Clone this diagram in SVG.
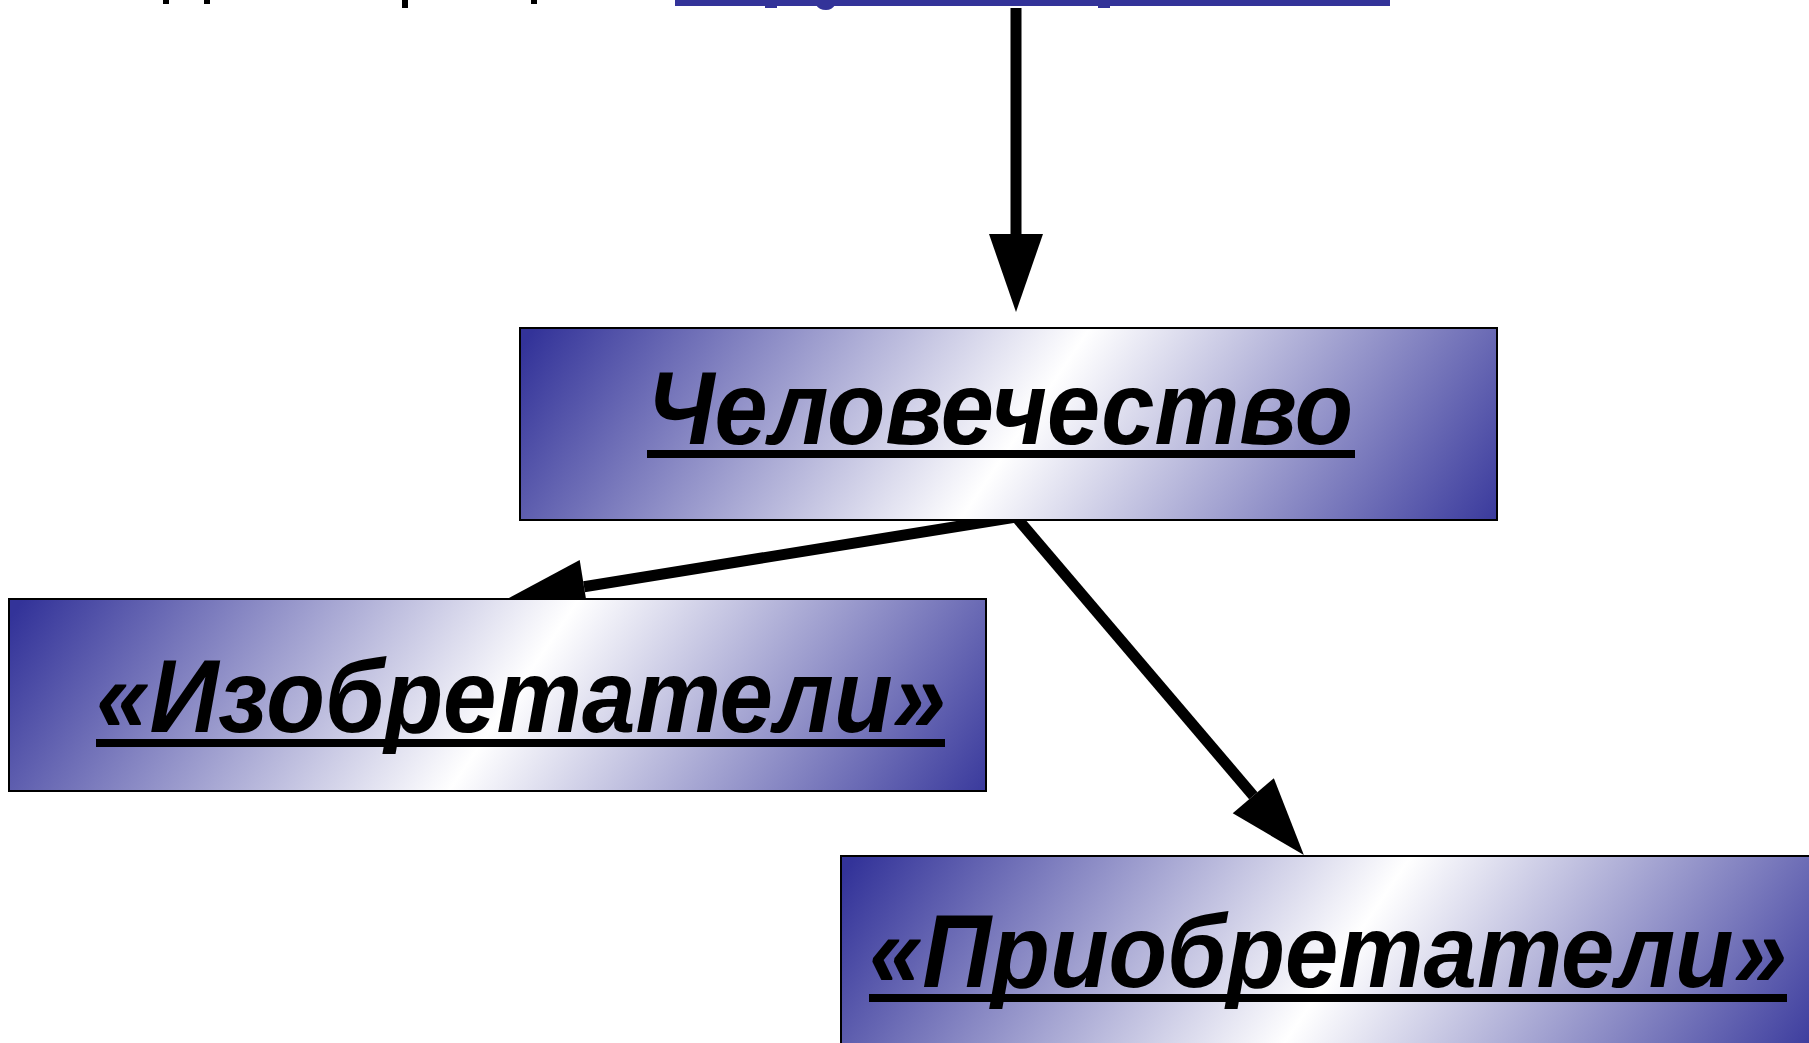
<svg xmlns="http://www.w3.org/2000/svg" width="1809" height="1043" viewBox="0 0 1809 1043">
  <style>
    .box { stroke: #000; stroke-width: 2; fill: url(#sheen); }
    .label { font-family: "Liberation Sans", Arial, sans-serif; font-weight: bold; font-style: italic; font-size: 104px; fill: #000; }
    .rule { fill: #000; }
    .link { stroke: #000; stroke-width: 11; fill: none; marker-end: url(#head); }
  </style>
  <defs>
    <!-- diagonal blue-white-blue sheen, in the local frame of a 977x192 box -->
    <linearGradient id="sheen" gradientUnits="userSpaceOnUse" x1="124" y1="-162" x2="886" y2="354">
      <stop offset="0" stop-color="#333399"/>
      <stop offset="0.5" stop-color="#ffffff"/>
      <stop offset="1" stop-color="#333399"/>
    </linearGradient>
    <marker id="head" markerUnits="userSpaceOnUse" orient="auto" refX="0" refY="0"
            markerWidth="80" markerHeight="60" viewBox="0 -30 80 60" overflow="visible">
      <path d="M0,-27 L78,0 L0,27 Z" fill="#000"/>
    </marker>
  </defs>

  <rect width="1809" height="1043" fill="#fff"/>

  <!-- heading strip cut by the top edge -->
  <g id="heading">
    <rect x="675" y="0" width="715" height="6" fill="#333399"/>
    <rect x="765" y="5" width="12" height="3" fill="#333399"/>
    <path d="M816,5 H835 Q832,10 826,10 Q819,10 816,5 Z" fill="#333399"/>
    <rect x="1098" y="5" width="12" height="3" fill="#333399"/>
    <rect x="163" y="0" width="6" height="4" fill="#000"/>
    <rect x="204" y="0" width="6" height="4" fill="#000"/>
    <rect x="402" y="0" width="6" height="8" fill="#000"/>
    <rect x="531" y="0" width="6" height="4" fill="#000"/>
  </g>

  <g id="connectors">
    <line class="link" x1="1016" y1="8" x2="1016" y2="234"/>
    <line class="link" x1="1016" y1="517" x2="584" y2="586.7"/>
    <line class="link" x1="1016" y1="517" x2="1253.3" y2="795.7"/>
  </g>

  <g id="node-humanity" transform="translate(520,328)">
    <rect class="box" x="0" y="0" width="977" height="192"/>
    <text class="label" x="127" y="116" textLength="706" lengthAdjust="spacingAndGlyphs">Человечество</text>
    <rect class="rule" x="127" y="122" width="708" height="8"/>
  </g>

  <g id="node-inventors" transform="translate(9,599)">
    <rect class="box" x="0" y="0" width="977" height="192"/>
    <text class="label" x="87" y="133" textLength="850" lengthAdjust="spacingAndGlyphs">«Изобретатели»</text>
    <rect class="rule" x="87" y="140" width="849" height="8"/>
  </g>

  <g id="node-acquirers" transform="translate(841,856)">
    <rect class="box" x="0" y="0" width="977" height="192"/>
    <text class="label" x="28" y="131" textLength="918" lengthAdjust="spacingAndGlyphs">«Приобретатели»</text>
    <rect class="rule" x="28" y="138" width="918" height="8"/>
  </g>
</svg>
